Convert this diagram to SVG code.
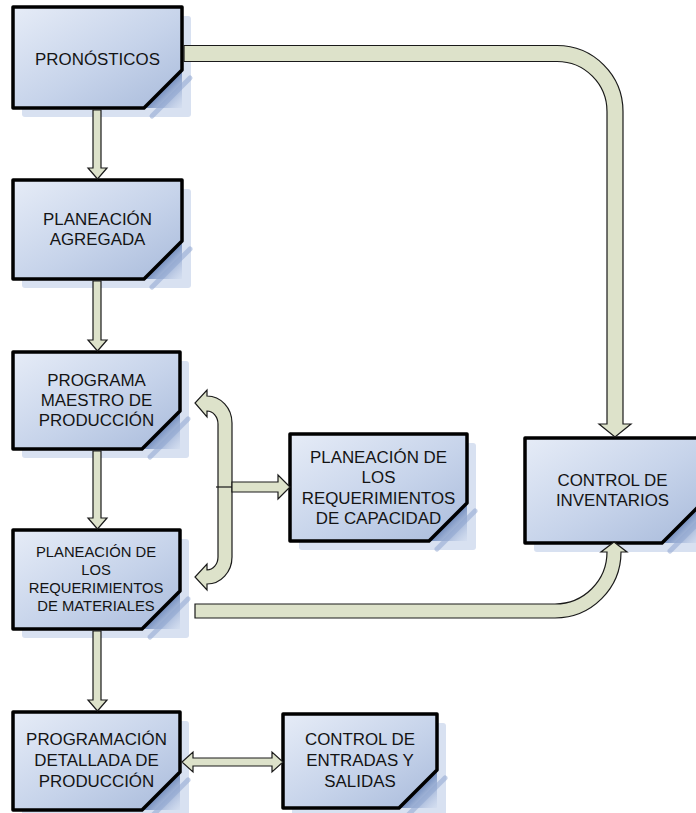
<svg xmlns="http://www.w3.org/2000/svg" width="696" height="813" viewBox="0 0 696 813">
<defs>
<linearGradient id="boxg" x1="0" y1="0" x2="1" y2="1">
<stop offset="0" stop-color="#e6ecf7"/>
<stop offset="0.55" stop-color="#c6d3ea"/>
<stop offset="1" stop-color="#a9bbdb"/>
</linearGradient>
<linearGradient id="foldg" x1="0" y1="0" x2="1" y2="1">
<stop offset="0.5" stop-color="#5f7db4" stop-opacity="0.85"/>
<stop offset="0.8" stop-color="#9cb0d6" stop-opacity="0.5"/>
<stop offset="1" stop-color="#c9d6ec" stop-opacity="0.3"/>
</linearGradient>
<style>
.shadow{fill:#d8e1f1;}
.fold{fill:url(#foldg);}
.stripe{stroke:#8fa6d0;stroke-width:5;stroke-opacity:0.55;stroke-linecap:round;}
.box{fill:url(#boxg);stroke:#000;stroke-width:3.5;stroke-linejoin:round;}
.t{font-family:"Liberation Sans",Arial,sans-serif;font-size:16.9px;fill:#141414;text-anchor:middle;}
.ts{font-family:"Liberation Sans",Arial,sans-serif;font-size:14.8px;fill:#141414;text-anchor:middle;}
.c{fill:#dde2ca;stroke:#1a1a1a;stroke-width:1.2;stroke-linejoin:miter;}
</style>
</defs>
<rect width="696" height="813" fill="#fff"/>

<g id="n1">
<rect class="shadow" x="22" y="16" width="169" height="101" rx="3"/>
<path class="fold" d="M182,70 L182,108 L144,108 Z"/>
<line class="stripe" x1="190" y1="78" x2="152" y2="116"/>
<path class="box" d="M13,7 H182 V70 L144,108 H13 Z"/>
<text class="t" x="97.5" y="65">PRONÓSTICOS</text>
</g>

<g id="n2">
<rect class="shadow" x="22" y="189" width="169" height="99" rx="3"/>
<path class="fold" d="M182,241 L182,279 L144,279 Z"/>
<line class="stripe" x1="190" y1="249" x2="152" y2="287"/>
<path class="box" d="M13,180 H182 V241 L144,279 H13 Z"/>
<text class="t" x="97.5" y="225">PLANEACIÓN</text>
<text class="t" x="97.5" y="245">AGREGADA</text>
</g>

<g id="n3">
<rect class="shadow" x="22" y="361" width="167" height="97" rx="3"/>
<path class="fold" d="M180,411 L180,449 L142,449 Z"/>
<line class="stripe" x1="188" y1="419" x2="150" y2="457"/>
<path class="box" d="M13,352 H180 V411 L142,449 H13 Z"/>
<text class="t" x="96.5" y="386">PROGRAMA</text>
<text class="t" x="96.5" y="406">MAESTRO DE</text>
<text class="t" x="96.5" y="426">PRODUCCIÓN</text>
</g>

<g id="n4">
<rect class="shadow" x="22" y="539" width="167" height="99" rx="3"/>
<path class="fold" d="M180,591 L180,629 L142,629 Z"/>
<line class="stripe" x1="188" y1="599" x2="150" y2="637"/>
<path class="box" d="M13,530 H180 V591 L142,629 H13 Z"/>
<text class="ts" x="96" y="557">PLANEACIÓN DE</text>
<text class="ts" x="96" y="575">LOS</text>
<text class="ts" x="96" y="593">REQUERIMIENTOS</text>
<text class="ts" x="96" y="611">DE MATERIALES</text>
</g>

<g id="n5">
<rect class="shadow" x="22" y="721" width="167" height="98" rx="3"/>
<path class="fold" d="M180,772 L180,810 L142,810 Z"/>
<line class="stripe" x1="188" y1="780" x2="150" y2="818"/>
<path class="box" d="M13,712 H180 V772 L142,810 H13 Z"/>
<text class="t" x="96.5" y="745">PROGRAMACIÓN</text>
<text class="t" x="96.5" y="766">DETALLADA DE</text>
<text class="t" x="96.5" y="787">PRODUCCIÓN</text>
</g>

<g id="n6">
<rect class="shadow" x="292" y="723" width="154" height="94" rx="3"/>
<path class="fold" d="M437,770 L437,808 L399,808 Z"/>
<line class="stripe" x1="445" y1="778" x2="407" y2="816"/>
<path class="box" d="M283,714 H437 V770 L399,808 H283 Z"/>
<text class="t" x="360" y="745">CONTROL DE</text>
<text class="t" x="360" y="766">ENTRADAS Y</text>
<text class="t" x="360" y="787">SALIDAS</text>
</g>

<g id="n7">
<rect class="shadow" x="299" y="443" width="177" height="107" rx="3"/>
<path class="fold" d="M467,503 L467,541 L429,541 Z"/>
<line class="stripe" x1="475" y1="511" x2="437" y2="549"/>
<path class="box" d="M290,434 H467 V503 L429,541 H290 Z"/>
<text class="t" x="378.5" y="463">PLANEACIÓN DE</text>
<text class="t" x="378.5" y="483">LOS</text>
<text class="t" x="378.5" y="504">REQUERIMIENTOS</text>
<text class="t" x="378.5" y="524">DE CAPACIDAD</text>
</g>

<g id="n8">
<rect class="shadow" x="534" y="447" width="175" height="105" rx="3"/>
<path class="fold" d="M700,505 L700,543 L662,543 Z"/>
<line class="stripe" x1="708" y1="513" x2="670" y2="551"/>
<path class="box" d="M525,438 H700 V505 L662,543 H525 Z"/>
<text class="t" x="612.5" y="486">CONTROL DE</text>
<text class="t" x="612.5" y="506">INVENTARIOS</text>
</g>

<g id="connectors">
<path class="c" d="M93,110 H101 V168 H107 L97.5,179 L88,168 H93 Z"/>
<path class="c" d="M93,281 H101 V340 H107 L97.5,351 L88,340 H93 Z"/>
<path class="c" d="M93,451 H101 V518 H107 L97.5,529 L88,518 H93 Z"/>
<path class="c" d="M93,631 H101 V700 H107 L97.5,711 L88,700 H93 Z"/>
<path class="c" d="M184,45.5 H557 A66,66 0 0 1 623,111.5 V424 H631 L615,437 L599,424 H607 V111.5 A50,50 0 0 0 557,61.5 H184 Z"/>
<path class="c" d="M195,604 H555 A52,52 0 0 0 607,552 H601 L614,542 L627,552 H621 A66,66 0 0 1 555,618 H195 Z"/>
<path class="c" d="M218,490 V424 A11,13 0 0 0 207,411 V417 L195,403 L207,390 V396 A25,27 0 0 1 232,423 V557 A25,27 0 0 1 207,584 V590 L195,577 L207,564 V570 A11,13 0 0 0 218,557 Z"/>
<line x1="216" y1="487" x2="232" y2="487" stroke="#1a1a1a" stroke-width="1.2"/>
<path class="c" d="M232,482 H278 V475 L290,487 L278,499 V492 H232 Z"/>
<path class="c" d="M182,762 L193,752 V758 H272 V752 L283,762 L272,772 V766 H193 V772 Z"/>
</g>
</svg>
